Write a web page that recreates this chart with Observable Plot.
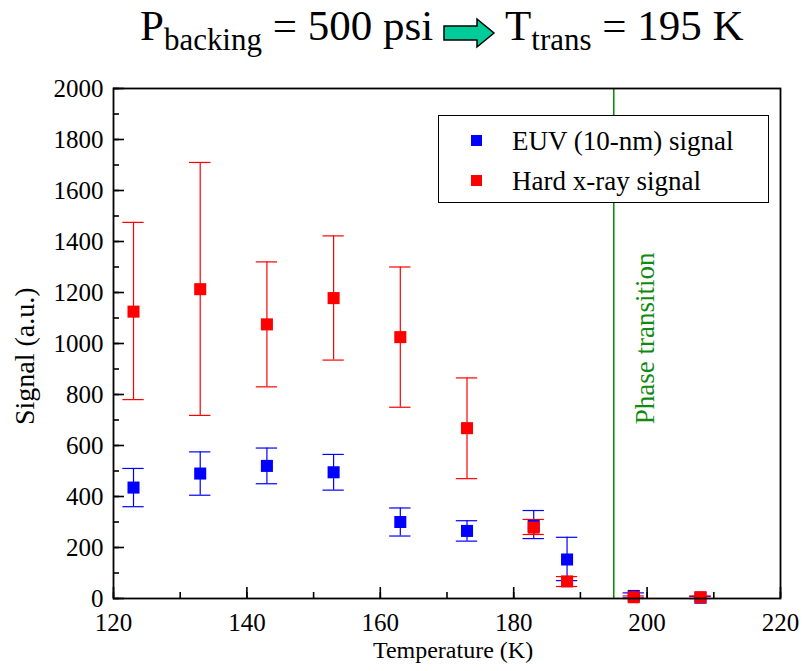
<!DOCTYPE html>
<html><head><meta charset="utf-8">
<script src="https://cdn.jsdelivr.net/npm/d3@7"></script>
<script src="https://cdn.jsdelivr.net/npm/@observablehq/plot@0.6"></script>
<style>
body{margin:0;background:#fff;font-family:"Liberation Serif",serif;}
#wrap{position:relative;width:803px;height:671px;}
#title{position:absolute;left:0;top:0;width:803px;height:70px;font-size:43px;color:#000;white-space:nowrap;}
#title .t{position:absolute;top:1px;}
#title sub{font-size:0.72em;vertical-align:-0.32em;line-height:0;}
#chart{position:absolute;left:0;top:70px;}
#legend{position:absolute;left:438px;top:115px;width:331px;height:88px;border:1px solid #000;background:#fff;box-sizing:border-box;font-size:27px;color:#000;}
.row{position:absolute;left:0;height:30px;line-height:30px;width:100%;}
.sw{position:absolute;left:32px;top:9px;width:11px;height:11px;}
.lab{position:absolute;left:73px;white-space:nowrap;}
</style></head>
<body>
<div id="wrap">
  <div id="title">
    <span class="t" style="left:140px">P<sub>backing</sub> = 500 psi</span>
    <svg style="position:absolute;left:442px;top:17px" width="54" height="32" viewBox="0 0 54 32">
      <polygon points="2,9 35,9 35,2 52,16 35,30 35,23 2,23" fill="#00cc99" stroke="#000" stroke-width="1.5"/>
    </svg>
    <span class="t" style="left:505px">T<sub>trans</sub> = 195 K</span>
  </div>
  <div id="chart"></div>
  <div id="legend"></div>
</div>
<script>
const temps = [123, 133, 143, 153, 163, 173, 183, 188, 198, 208];
const euv   = [435, 490, 520, 495, 300, 265, 285, 153, 10, 3];
const euvLo = [360, 405, 450, 425, 245, 225, 235, 70, 2, 0];
const euvHi = [510, 575, 590, 565, 355, 305, 345, 240, 22, 8];
const hxr   = [1125, 1213, 1075, 1178, 1025, 668, 278, 67, 5, 5];
const hxrLo = [780, 718, 830, 935, 750, 470, 251, 47, 0, 0];
const hxrHi = [1475, 1710, 1320, 1422, 1300, 865, 310, 86, 10, 10];
const seriesNames = ["EUV (10-nm) signal", "Hard x-ray signal"];
const seriesColors = ["#0000ff", "#ff0000"];
const xTicks = [120, 140, 160, 180, 200, 220];
const yTicks = [0, 200, 400, 600, 800, 1000, 1200, 1400, 1600, 1800, 2000];
const transitionT = 195;
const transitionLabel = "Phase transition";
const xLabel = "Temperature (K)";
const yLabel = "Signal (a.u.)";

const rows = [];
temps.forEach((t, i) => {
  rows.push({series: seriesNames[0], t, v: euv[i], lo: euvLo[i], hi: euvHi[i]});
});
temps.forEach((t, i) => {
  rows.push({series: seriesNames[1], t, v: hxr[i], lo: hxrLo[i], hi: hxrHi[i]});
});
const capHalf = 1.6; // K
const color = d => seriesColors[seriesNames.indexOf(d.series)];
const xMinor = d3.range(120, 221, 10);
const yMinor = d3.range(0, 2001, 100);
const FF = "Liberation Serif";

const chart = Plot.plot({
  width: 803,
  height: 601,
  marginLeft: 113,
  marginRight: 23,
  marginTop: 18,
  marginBottom: 73,
  style: {fontFamily: FF, fontSize: "25px", color: "#000", background: "#fff"},
  x: {domain: [120, 220]},
  y: {domain: [0, 2000]},
  marks: [
    Plot.ruleX([transitionT], {stroke: "#108a10", strokeWidth: 1.6}),
    Plot.text([transitionLabel], {x: () => transitionT, y: () => 1020, rotate: -90, dx: 32, fill: "#108a10", fontSize: 27, fontFamily: FF}),
    Plot.ruleX(rows, {x: "t", y1: "lo", y2: "hi", stroke: color, strokeWidth: 1.2}),
    Plot.ruleY(rows, {y: "lo", x1: d => d.t - capHalf, x2: d => d.t + capHalf, stroke: color, strokeWidth: 1.2}),
    Plot.ruleY(rows, {y: "hi", x1: d => d.t - capHalf, x2: d => d.t + capHalf, stroke: color, strokeWidth: 1.2}),
    Plot.dot(rows, {x: "t", y: "v", symbol: "square", r: 6.8, fill: color, stroke: "none"}),
    Plot.axisX(xMinor, {tickSize: -6, text: null, label: null, strokeWidth: 1.6}),
    Plot.axisX(xTicks, {tickSize: -11, text: null, label: null, strokeWidth: 1.6}),
    Plot.axisX(xTicks, {tickSize: 0, tickPadding: 15, label: null, tickFormat: "d", fontSize: 25, fontFamily: FF}),
    Plot.axisY(yMinor, {tickSize: -6, text: null, label: null, strokeWidth: 1.6}),
    Plot.axisY(yTicks, {tickSize: -11, text: null, label: null, strokeWidth: 1.6}),
    Plot.axisY(yTicks, {tickSize: 0, tickPadding: 10, label: null, tickFormat: "d", fontSize: 25, fontFamily: FF}),
    Plot.frame({stroke: "#000", strokeWidth: 1.8}),
    Plot.text([xLabel], {frameAnchor: "bottom", dx: 6, dy: 59, fontSize: 24, fontFamily: FF}),
    Plot.text([yLabel], {x: () => 120, y: () => 950, dx: -88, rotate: -90, fontSize: 28, fontFamily: FF})
  ]
});
document.getElementById("chart").appendChild(chart);

const leg = document.getElementById("legend");
seriesNames.forEach((name, i) => {
  const row = document.createElement("div");
  row.className = "row";
  row.style.top = (10 + i * 40) + "px";
  row.innerHTML = `<span class="sw" style="background:${seriesColors[i]}"></span><span class="lab">${name}</span>`;
  leg.appendChild(row);
});
</script>
</body></html>
